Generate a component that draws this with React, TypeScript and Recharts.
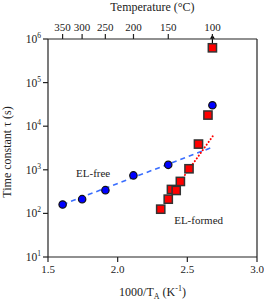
import React from "react";
import {
  ScatterChart,
  Scatter,
  XAxis,
  YAxis,
  ReferenceDot,
  ReferenceLine,
} from "recharts";

// annealing data, x = 1000/T_A (1/K), tau in seconds
const freeX = [1.605, 1.745, 1.912, 2.113, 2.363, 2.68];
const freeTau = [160, 212, 341, 743, 1300, 30200];
const formedX = [2.309, 2.363, 2.386, 2.42, 2.45, 2.512, 2.58, 2.648, 2.68];
const formedTau = [125, 212, 354, 336, 541, 1055, 3890, 18000, 628000];

// Arrhenius fit lines
const freeFitX = [1.605, 2.69];
const freeFitTau = [160, 3380];
const formedFitX = [2.44, 2.69];
const formedFitTau = [490, 6400];

const xTicks = [1.5, 2.0, 2.5, 3.0];
const yTicks = [10, 100, 1000, 10000, 100000, 1000000];
const tempTicks = [350, 300, 250, 200, 150, 100];

const FONT = "Liberation Serif";
const INK = "#222";

const zip = (xs: number[], ys: number[]) => xs.map((x, i) => ({ x, y: ys[i] }));

const freeData = zip(freeX, freeTau);
const formedData = zip(formedX, formedTau);
const freeFit = zip(freeFitX, freeFitTau);
const formedFit = zip(formedFitX, formedFitTau);
const topTicks = tempTicks.map((t) => 1000 / (t + 273.15));

const Circle = (p: any) => (
  <circle cx={p.cx} cy={p.cy} r={3.7} fill="#0000ff" stroke="#111" strokeWidth={1.2} />
);
const Square = (p: any) => (
  <rect x={p.cx - 4.1} y={p.cy - 4.1} width={8.2} height={8.2} fill="#ff0000" stroke="#333" strokeWidth={1.5} />
);
const Nothing = () => <g />;

const PowTick = (p: any) => {
  const exp = Math.round(Math.log10(p.payload.value));
  return (
    <text x={p.x} y={p.y} dy={4} textAnchor="end" fontSize={11.5} fontFamily={FONT} fill={INK}>
      10
      <tspan dy={-5} fontSize={7.5}>{exp}</tspan>
    </text>
  );
};

const BottomTick = (p: any) => (
  <text x={p.x} y={p.y} dy={9} textAnchor="middle" fontSize={11} fontFamily={FONT} fill={INK}>
    {Number(p.payload.value).toFixed(1)}
  </text>
);

const TopTick = (p: any) => (
  <text x={p.x} y={p.y} dy={-1} textAnchor="middle" fontSize={11} fontFamily={FONT} fill={INK}>
    {tempTicks[p.index]}
  </text>
);

const Arrow = (p: any) => (
  <g>
    <line x1={p.x1} y1={p.y1} x2={p.x2} y2={p.y2 + 3} stroke="#000" strokeWidth={1.2} />
    <polygon points={`${p.x2},${p.y2} ${p.x2 - 2.5},${p.y2 + 4} ${p.x2 + 2.5},${p.y2 + 4}`} fill="#000" />
  </g>
);

const noteLabel = (text: string) => (props: any) => {
  const vb = props.viewBox;
  return (
    <text x={vb.x + vb.width / 2} y={vb.y + vb.height / 2} dy={4} textAnchor="middle" fontSize={11} fontFamily={FONT} fill={INK}>
      {text}
    </text>
  );
};

export default function App() {
  return (
    <div style={{ position: "absolute", left: 0, top: 0 }}>
      <ScatterChart width={264} height={304} margin={{ top: 0, right: 6, bottom: 0, left: 0 }}>
        <XAxis
          type="number"
          dataKey="x"
          domain={[1.5, 3]}
          ticks={xTicks}
          interval={0}
          allowDataOverflow
          height={47}
          tickSize={5}
          tick={<BottomTick />}
          stroke={INK}
          strokeWidth={1.2}
          label={(props: any) => {
            const vb = props.viewBox;
            return (
              <text x={vb.x + vb.width / 2} y={vb.y + 39} textAnchor="middle" fontSize={12} fontFamily={FONT} fill={INK}>
                1000/T
                <tspan dy={3} fontSize={8}>A</tspan>
                <tspan dy={-3}> (K</tspan>
                <tspan dy={-5} fontSize={8}>-1</tspan>
                <tspan dy={5}>)</tspan>
              </text>
            );
          }}
        />
        <XAxis
          xAxisId="top"
          orientation="top"
          type="number"
          dataKey="x"
          domain={[1.5, 3]}
          ticks={topTicks}
          interval={0}
          allowDataOverflow
          height={39}
          tickSize={5}
          tick={<TopTick />}
          stroke={INK}
          strokeWidth={1.2}
          label={(props: any) => {
            const vb = props.viewBox;
            return (
              <text x={vb.x + vb.width / 2} y={vb.y + 11} textAnchor="middle" fontSize={12} fontFamily={FONT} fill={INK}>
                Temperature (°C)
              </text>
            );
          }}
        />
        <YAxis
          type="number"
          dataKey="y"
          scale="log"
          domain={[10, 1000000]}
          ticks={yTicks}
          interval={0}
          allowDataOverflow
          width={48}
          tickSize={5}
          tick={<PowTick />}
          stroke={INK}
          strokeWidth={1.2}
          label={(props: any) => {
            const vb = props.viewBox;
            const cx = 10.5;
            const cy = vb.y + vb.height / 2 + 4;
            return (
              <text x={cx} y={cy} transform={`rotate(-90, ${cx}, ${cy})`} textAnchor="middle" fontSize={12} fontFamily={FONT} fill={INK}>
                Time constant τ (s)
              </text>
            );
          }}
        />
        <YAxis yAxisId="right" orientation="right" type="number" domain={[0, 1]} width={1} tick={false} tickLine={false} stroke={INK} strokeWidth={1.2} />

        <Scatter data={freeFit} shape={<Nothing />} line={{ stroke: "#3a6eff", strokeWidth: 1.6, strokeDasharray: "5 4" }} isAnimationActive={false} />
        <Scatter data={formedFit} shape={<Nothing />} line={{ stroke: "#ff0000", strokeWidth: 2, strokeDasharray: "0.1 3.3", strokeLinecap: "round" }} isAnimationActive={false} />

        <ReferenceLine
          segment={[{ x: 2.68, y: 628000 }, { x: 2.68, y: 1250000 }]}
          ifOverflow="visible"
          shape={Arrow}
        />

        <Scatter data={freeData} shape={Circle} isAnimationActive={false} />
        <Scatter data={formedData} shape={Square} isAnimationActive={false} />

        <ReferenceDot x={1.824} y={840} r={0} fill="none" stroke="none" label={noteLabel("EL-free")} />
        <ReferenceDot x={2.581} y={70} r={0} fill="none" stroke="none" label={noteLabel("EL-formed")} />
      </ScatterChart>
    </div>
  );
}
